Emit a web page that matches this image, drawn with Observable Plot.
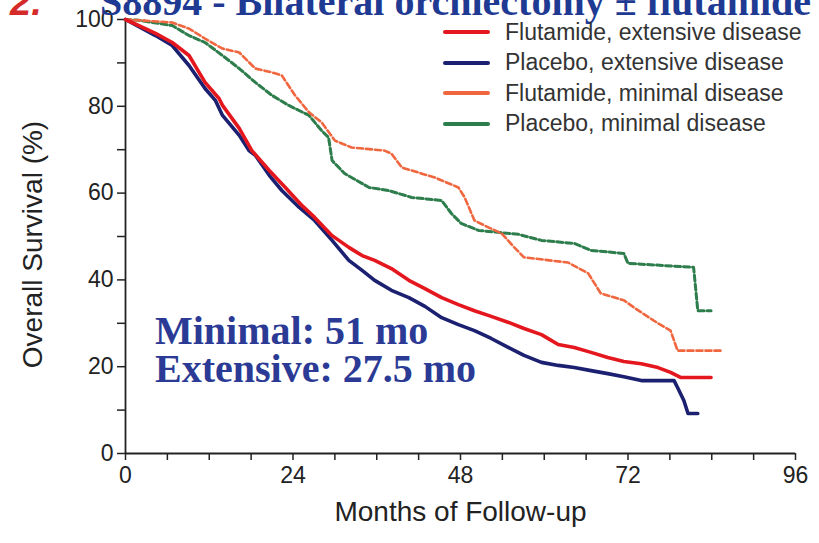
<!DOCTYPE html>
<html>
<head>
<meta charset="utf-8">
<script src="https://cdn.jsdelivr.net/npm/d3@7"></script>
<script src="https://cdn.jsdelivr.net/npm/@observablehq/plot@0.6"></script>
<style>
  html, body { margin: 0; padding: 0; background: #fff; overflow: hidden; }
  #wrap { position: relative; width: 819px; height: 543px; overflow: hidden; }
  #chart { position: absolute; left: 0; top: 0; }
  .title { position: absolute; top: -18px; left: 100px; font: bold 40px "Liberation Serif", "Times New Roman", serif; color: #1f3a93; white-space: nowrap; line-height: 40px; }
  .num { position: absolute; top: -17px; left: 10px; font: italic bold 38px "Liberation Sans", Arial, sans-serif; color: #d42a2a; line-height: 38px; }
  .legend { position: absolute; left: 443px; top: 17px; font: 23px "Liberation Sans", Arial, sans-serif; color: #333; }
  .legend .row { display: flex; align-items: center; height: 30.5px; }
  .legend .sw { width: 47px; height: 4px; margin-right: 15px; border-radius: 2px; }
  .note { position: absolute; left: 155px; font: bold 40px "Liberation Serif", "Times New Roman", serif; color: #2b3b95; white-space: nowrap; line-height: 40px; }
</style>
</head>
<body>
<div id="wrap">
  <div id="chart"></div>
  <div class="num">2.</div>
  <div class="title" id="title"></div>
  <div class="legend" id="legend"></div>
  <div class="note" id="note1" style="top:311px"></div>
  <div class="note" id="note2" style="top:349px"></div>
</div>
<script>
// ---- Data ----
const titleText = "S8894 - Bilateral orchiectomy \u00b1 flutamide";
const xLabel = "Months of Follow-up";
const yLabel = "Overall Survival (%)";
const notes = ["Minimal: 51 mo", "Extensive: 27.5 mo"];

const seriesNames = ["Flutamide, extensive disease", "Placebo, extensive disease", "Flutamide, minimal disease", "Placebo, minimal disease"];
const seriesColors = ["#e5171e", "#1c2070", "#f0663e", "#2e7d4c"];

const xTicks = [0, 24, 48, 72, 96];
const yTicks = [0, 20, 40, 60, 80, 100];

// Flutamide, extensive disease
const feMonths = [0, 4.3, 6.7, 9.1, 11.4, 13.4, 13.9, 16.3, 18.1, 20.6, 22.9, 25.3, 27.1, 29.6, 32, 33.9, 35.7, 38.1, 40.6, 42.9, 45.3, 47.7, 50, 52.4, 54.9, 57.1, 59.6, 62, 64.3, 66.7, 69.1, 71.4, 73.9, 76.3, 78.1, 79.6, 83.9];
const feSurv   = [100, 96.8, 94.7, 91.7, 85.5, 81.8, 80.2, 74.9, 69.8, 65.2, 61.3, 57.1, 54.4, 50.2, 47.5, 45.6, 44.5, 42.6, 39.9, 38, 35.9, 34.3, 32.9, 31.6, 30.2, 28.8, 27.4, 25.1, 24.4, 23.3, 22.1, 21.2, 20.7, 19.8, 18.7, 17.5, 17.5];

// Placebo, extensive disease
const peMonths = [0, 4.3, 6.7, 9.1, 11.4, 12.9, 13.9, 16.3, 17.7, 18.6, 20.6, 22.4, 24.9, 27.1, 29.6, 32, 33.9, 35.7, 38.1, 40.6, 42.9, 45.3, 47.7, 50, 52.4, 54.9, 57.1, 59.6, 62, 64.3, 66.7, 69.1, 71.4, 73.9, 78.6, 79.1, 80, 80.6, 82];
const peSurv   = [100, 96.3, 94, 89.4, 84.1, 81.3, 77.9, 73.3, 69.8, 68.7, 64.1, 60.6, 56.7, 53.7, 49.1, 44.5, 42.2, 39.9, 37.6, 35.9, 33.9, 31.3, 29.7, 28.3, 26.5, 24.4, 22.6, 21, 20.3, 19.8, 19.1, 18.4, 17.7, 16.8, 16.8, 15.2, 12.2, 9.2, 9.2];

// Flutamide, minimal disease
const fmMonths = [0, 2, 6.7, 9.1, 11.4, 13.9, 16.3, 18.6, 21, 22.4, 24.3, 26.3, 28.1, 30, 32.4, 37.1, 38.1, 39.6, 44.3, 47.7, 48.6, 50, 52, 53.9, 55.7, 57.1, 63.4, 66.3, 68.1, 71.4, 72.9, 75.7, 78.1, 78.6, 79.1, 85.3];
const fmSurv   = [100, 99.8, 99.3, 97.9, 95.6, 93.3, 92.4, 88.7, 87.8, 87.1, 82.5, 78.6, 76.3, 72.1, 70.5, 69.8, 69.1, 65.9, 63.6, 61.3, 59, 53.7, 52.1, 50.7, 47.5, 45.2, 44, 41.5, 36.9, 35.3, 33.6, 30.6, 28.3, 26, 23.7, 23.7];

// Placebo, minimal disease
const pmMonths = [0, 2, 6.7, 9.1, 11.4, 13.9, 16.3, 18.6, 21, 23.4, 26.3, 28.1, 29.1, 29.6, 31.4, 34.9, 37.7, 41, 45.3, 46.7, 48.1, 50.6, 56.3, 59.6, 64.3, 66.7, 71.4, 72, 81.4, 82, 83.9];
const pmSurv   = [100, 99.8, 98.6, 96.3, 94.7, 91.7, 88.7, 85.5, 82.5, 80.2, 77.9, 74.4, 72.8, 67.5, 64.5, 61.3, 60.6, 59, 58.3, 55.3, 53, 51.4, 50.5, 49.1, 48.4, 46.8, 46.1, 43.8, 42.9, 32.9, 32.9];

// ---- Build tables ----
const toRows = (ms, ss, name) => ms.map((m, i) => ({month: m, surv: ss[i], series: name}));
const fe = toRows(feMonths, feSurv, seriesNames[0]);
const pe = toRows(peMonths, peSurv, seriesNames[1]);
const fm = toRows(fmMonths, fmSurv, seriesNames[2]);
const pm = toRows(pmMonths, pmSurv, seriesNames[3]);

const chart = Plot.plot({
  width: 819,
  height: 543,
  marginLeft: 125,
  marginRight: 24,
  marginTop: 19,
  marginBottom: 90,
  style: {fontFamily: "'Liberation Sans', Arial, sans-serif", color: "#222", background: "transparent"},
  x: {domain: [0, 96]},
  y: {domain: [0, 100]},
  marks: [
    Plot.axisX({ticks: d3.range(0, 97, 6), tickFormat: d => xTicks.includes(d) ? String(d) : "", tickSize: 7, tickPadding: 6, fontSize: 23, label: null, strokeWidth: 1.5}),
    Plot.axisY({ticks: d3.range(0, 101, 10), tickFormat: d => yTicks.includes(d) ? String(d) : "", tickSize: 8, tickPadding: 4, fontSize: 23, label: null, strokeWidth: 1.5}),
    Plot.ruleX([0], {stroke: "#222", strokeWidth: 1.8}),
    Plot.ruleY([0], {stroke: "#222", strokeWidth: 1.8}),
    Plot.line(pm, {x: "month", y: "surv", stroke: seriesColors[3], strokeWidth: 3, strokeDasharray: "6,3"}),
    Plot.line(fm, {x: "month", y: "surv", stroke: seriesColors[2], strokeWidth: 2.6, strokeDasharray: "6,3"}),
    Plot.line(pe, {x: "month", y: "surv", stroke: seriesColors[1], strokeWidth: 3.6}),
    Plot.line(fe, {x: "month", y: "surv", stroke: seriesColors[0], strokeWidth: 3.6}),
    Plot.text([xLabel], {frameAnchor: "bottom", dy: 67, fontSize: 28, fill: "#222"}),
    Plot.text([yLabel], {frameAnchor: "left", dx: -92, dy: 8, rotate: -90, textAnchor: "middle", fontSize: 28, fill: "#222"})
  ]
});
document.getElementById("chart").appendChild(chart);

document.getElementById("title").textContent = titleText;
document.getElementById("note1").textContent = notes[0];
document.getElementById("note2").textContent = notes[1];

const legend = document.getElementById("legend");
seriesNames.forEach((name, i) => {
  const row = document.createElement("div");
  row.className = "row";
  const sw = document.createElement("div");
  sw.className = "sw";
  sw.style.background = seriesColors[i];
  const t = document.createElement("span");
  t.textContent = name;
  row.appendChild(sw);
  row.appendChild(t);
  legend.appendChild(row);
});
</script>
</body>
</html>
